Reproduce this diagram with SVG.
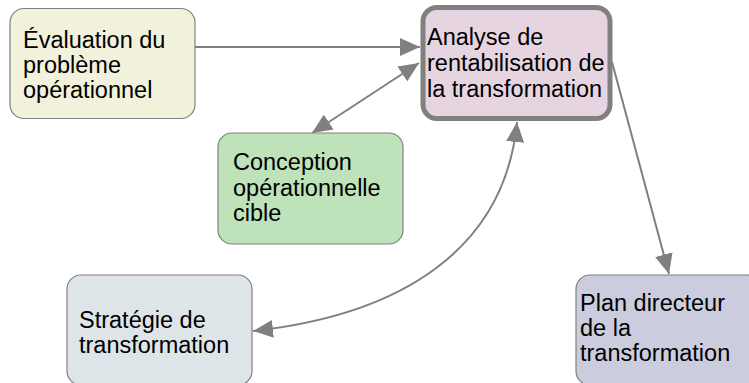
<svg xmlns="http://www.w3.org/2000/svg" width="749" height="383" viewBox="0 0 749 383">
  <style>
    .box { stroke: #808080; stroke-width: 1.2; }
    .focus { stroke: #808080; stroke-width: 5; }
    .lbl { font-family: "Liberation Sans", Arial, sans-serif; font-size: 23.5px; fill: #000; }
    .edge { fill: none; stroke: #808080; stroke-width: 2; }
  </style>
  <defs>
    <marker id="head" markerUnits="userSpaceOnUse" markerWidth="21" markerHeight="19" refX="20" refY="9" orient="auto-start-reverse" viewBox="0 0 21 19">
      <path d="M0,0 L20,9 L0,18 z" fill="#808080"/>
    </marker>
  </defs>
  <rect width="749" height="383" fill="#ffffff"/>

  <!-- connectors -->
  <g id="connectors">
    <path class="edge" d="M195,47 L420,47" marker-end="url(#head)"/>
    <path class="edge" d="M419,63 L312,133" marker-start="url(#head)" marker-end="url(#head)"/>
    <path class="edge" d="M517,122 C505,250 400,315 253,331" marker-start="url(#head)" marker-end="url(#head)"/>
    <path class="edge" d="M612,62 L669,274" marker-end="url(#head)"/>
  </g>

  <g id="node-evaluation">
    <rect class="box" x="10" y="8.5" width="185" height="110" rx="14" fill="#f2f1dc"/>
    <text class="lbl" x="23" y="48">Évaluation du</text>
    <text class="lbl" x="23" y="73">problème</text>
    <text class="lbl" x="23" y="98">opérationnel</text>
  </g>

  <g id="node-analyse">
    <rect class="focus" x="423" y="7.5" width="187" height="111" rx="14" fill="#e6d5e1"/>
    <text class="lbl" x="427" y="45">Analyse de</text>
    <text class="lbl" x="427" y="71">rentabilisation de</text>
    <text class="lbl" x="427" y="96.5">la transformation</text>
  </g>

  <g id="node-conception">
    <rect class="box" x="218" y="133" width="185" height="111" rx="14" fill="#bee2b9"/>
    <text class="lbl" x="233" y="170">Conception</text>
    <text class="lbl" x="233" y="195.5">opérationnelle</text>
    <text class="lbl" x="233" y="221">cible</text>
  </g>

  <g id="node-strategie">
    <rect class="box" x="67" y="275" width="185" height="110" rx="14" fill="#dee5e9"/>
    <text class="lbl" x="79" y="327.5">Stratégie de</text>
    <text class="lbl" x="79" y="352.5">transformation</text>
  </g>

  <g id="node-plan">
    <rect class="box" x="576" y="275" width="185" height="110" rx="14" fill="#ccccdf"/>
    <text class="lbl" x="580" y="310.5">Plan directeur</text>
    <text class="lbl" x="580" y="336">de la</text>
    <text class="lbl" x="580" y="360.5">transformation</text>
  </g>
</svg>
